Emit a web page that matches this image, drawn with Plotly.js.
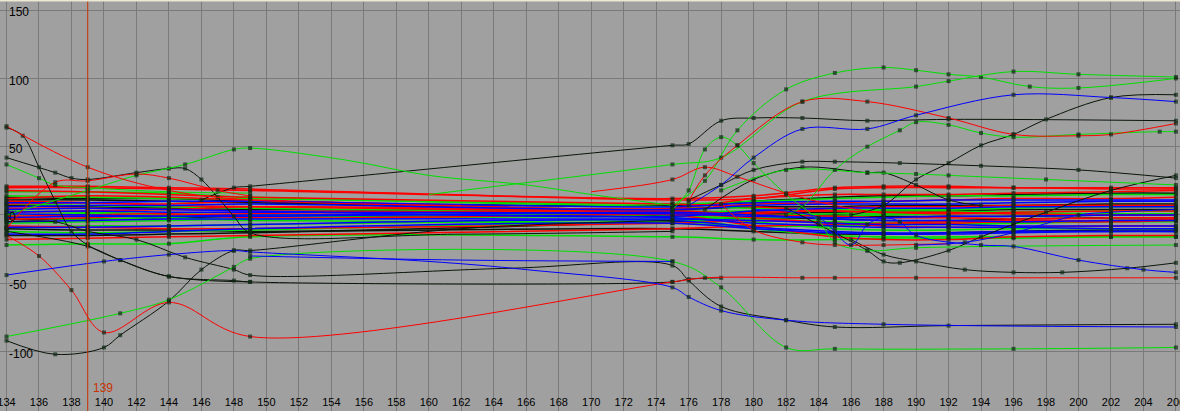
<!DOCTYPE html>
<html><head><meta charset="utf-8">
<script src="https://cdn.plot.ly/plotly-3.0.1.min.js"></script>
<style>html,body{margin:0;padding:0;background:#a0a0a0;overflow:hidden}#chart{width:1180px;height:411px}</style>
</head><body><div id="chart"></div>
<script>
// ---- axis ticks ----
const xTickVals = [134,136,138,140,142,144,146,148,150,152,154,156,158,160,162,164,166,168,170,172,174,176,178,180,182,184,186,188,190,192,194,196,198,200,202,204,206];
const xTickText = xTickVals.map(String);
const yTickVals = [-100,-50,0,50,100,150];
const yTickText = ['-100','-50','0','50','100','150'];
const currentFrame = 139;
// sample times that lie on a curve but are not keyframes (no key marker)
const sampleOnly = [155,160,162,165,166,170];

// ---- black curves (times / values) ----
const k1X = [146,148,149,175,176,178,180,183,187,192,206];
const k1Y = [11,20,21,51,52,69,71,71,69,70,69];
const k2X = [134,137,138,139,142,144,145,146,147,148,149,162,175];
const k2Y = [42,31,27,26,31,34,34,26,13,-1,-13,-14,-12];
const k3X = [134,135,136,137,138,139,141,144,149];
const k3Y = [64,58,35,10,-12,-22,-33,-45,-49];
const k4X = [134,137,140,141,144,146,148,149,162,175];
const k4Y = [-92,-102,-97,-88,-63,-40,-26,-26,-10,-4];
const k5X = [134,139,141,144,148,149,175,176,178];
const k5Y = [-12,-23,-33,-45,-48,-49,-49,-47,-46];
const k6X = [134,137,139,142,145,148,149,165,175,176,178,182,185,192,206];
const k6Y = [-5,-5,-12,-18,-31,-40,-44,-39,-37,-48,-67,-77,-82,-81,-80];
const k7X = [186,188,190,192,194,196,198,202,206];
const k7Y = [0,7,26,38,51,59,70,86,88];
const k8X = [182,184,187,188,189,192,194,198,202,206];
const k8Y = [5,-7,-26,-34,-35,-26,-16,2,18,29];
const k9X = [176,178,180,183,185,189,194,200,206];
const k9Y = [11,22,33,39,39,38,36,33,27];
const k10X = [177,180,183,187,188,190,192,194];
const k10Y = [4,26,35,31,31,22,11,7];
const k11X = [186,188,190,193,196,199,203,206];
const k11Y = [-18,-29,-34,-40,-42,-42,-39,-35];

// ---- red curves ----
const r1X = [176,177,179,183,187,192,196,200,202,206];
const r1Y = [10,29,51,83,83,71,59,58,59,67];
const r2X = [134,139,144,149,162];
const r2Y = [65,35,18,11,7];
const r3X = [134,136,138,140,144,149,175,177,183,185,190,206];
const r3Y = [-15,-30,-55,-86,-64,-89,-49,-46,-46,-46,-46,-46];
const r4X = [170,175,177,179,182,185,188];
const r4Y = [17,26,35,28,16,7,1];
const r5X = [178,180,183,185,188,192];
const r5Y = [8,-11,-20,-22,-22,-21];
const r6X = [134,137,139,142,144,147,149];
const r6Y = [-10,24,25,30,27,18,14];

// ---- green curves ----
const g1X = [175,177,179,182,185,188,190,192,194,197,200,206];
const g1Y = [7,25,62,92,104,108,106,103,101,94,93,100];
const g2X = [160,175,178,183,190,192,196,200,206];
const g2Y = [15,37,42,83,94,98,105,103,101];
const g3X = [134,141,144,148,149,175,178,182,185,196,206];
const g3Y = [-89,-72,-62,-38,-32,-34,-53,-97,-98,-98,-97];
const g4X = [134,139,142,145,148,149,155,160,166,170,175];
const g4Y = [0,18,29,37,48,49,40,29,22,15,7];
const g5X = [134,136,137,139,144,149];
const g5Y = [37,27,22,20,17,16];
const g6X = [178,182,187,190,192,198,206];
const g6Y = [18,33,31,30,29,26,22];
const g7X = [182,183,185,187,189,190,192,194,196,200,205,206];
const g7Y = [0,6,33,50,62,68,66,60,57,59,61,61];
const g8X = [175,176,177,178,179,180,182,184,185,187,190,206];
const g8Y = [4,18,48,57,51,38,15,-4,-20,-26,-24,-22];

// ---- blue curves ----
const b1X = [176,178,180,183,187,190,196,202,206];
const b1Y = [7,22,42,63,63,73,88,86,83];
const b2X = [134,140,144,148,149,160,166,175,176,178,182,188,206];
const b2Y = [-44,-34,-29,-26,-27,-34,-40,-53,-60,-70,-77,-80,-82];
const b3X = [180,184,186,187,188,189,190,194,196,200,204,206];
const b3Y = [4,-2,-22,-7,-2,-5,-15,-22,-23,-33,-40,-42];
const b4X = [190,193,196,200,202,206];
const b4Y = [-22,-20,-13,0,2,4];
const b5X = [149,162,175];
const b5Y = [-30,-33,-34];

// ---- dense band of nearly flat channels ----
const bandX = [134,139,144,149,175,180,185,188,192,196,202,206];
const bandRed = [
  [20,20,19,18,12,14,20,21,21,20,20,20],
  [21,21,20,19,11,12,19,20,20,20,19,19],
  [18,17,15,13,8,6,3,2,1,2,3,3],
  [8,9,8,10,2,0,-1,-2,-2,-3,-2,-2],
  [-3,-2,0,1,3,1,5,6,6,7,7,7],
  [-8,-9,-10,-10,-6,-4,-6,-8,-9,-9,-8,-8],
  [2,3,4,6,0,-8,-16,-18,-18,-16,-15,-15],
  [12,14,13,11,5,12,15,15,15,16,17,18],
  [-1,0,1,-2,1,2,3,2,2,1,0,0],
  [5,5,4,3,1,-2,-6,-7,-6,-5,-5,-4],
  [-18,-17,-16,-15,-10,-8,-7,-6,-5,-4,-4,-3],
  [10,9,7,6,4,8,9,10,11,12,12,13]
];
const bandGreen = [
  [17,17,16,13,6,5,4,4,4,5,6,6],
  [-6,-5,-4,-3,-1,-2,-1,0,1,2,3,3],
  [-22,-21,-21,-16,-16,-18,-18,-17,-17,-17,-16,-16],
  [3,2,1,0,2,3,4,3,3,2,3,3],
  [-12,-13,-12,-11,-4,-3,-5,-6,-6,-6,-5,-5],
  [8,7,6,5,0,-5,-10,-11,-11,-10,-10,-10],
  [-2,-3,-2,-4,-6,-8,-8,-7,-7,-6,-4,-4],
  [14,13,12,12,8,10,12,13,14,14,15,15],
  [-9,-8,-8,-7,-3,-1,1,1,2,1,1,1],
  [0,1,0,-1,-2,-10,-15,-16,-16,-16,-16,-16]
];
const bandBlue = [
  [6,7,7,8,4,7,8,8,8,9,10,10],
  [1,0,-1,-1,2,0,-3,-4,-4,-5,-4,-4],
  [-9,-9,-8,-7,-4,-9,-12,-13,-13,-12,-12,-12],
  [-5,-4,-3,-3,-3,-4,-6,-7,-7,-8,-8,-8],
  [-14,-14,-12,-10,-6,-10,-13,-14,-14,-13,-12,-12],
  [4,5,4,3,-1,3,5,5,5,6,6,6],
  [-2,-1,-1,0,-2,-6,-8,-9,-9,-9,-10,-10],
  [2,3,2,2,1,-1,-2,-2,-1,-1,0,0],
  [9,9,10,10,6,9,10,10,11,11,11,11]
];
const bandBlack = [
  [11,11,10,9,4,6,6,7,7,7,8,8],
  [-15,-15,-14,-13,-5,-2,-3,-4,-4,-3,-2,-2],
  [-3,-3,-2,-1,0,1,0,-1,-1,-1,0,0],
  [13,12,12,10,7,10,13,14,14,15,16,16],
  [7,6,5,4,3,2,2,3,3,4,4,4],
  [-10,-11,-11,-12,-10,-12,-14,-14,-13,-12,-11,-11]
];

const C = {red:'#ff0000', green:'#00e000', blue:'#0000ff', black:'#0a140a', key:'#0f2a16'};
const traces = [];
function curve(xs, ys, color, w) {
  traces.push({
    type:'scatter', mode:'lines+markers', x:xs, y:ys,
    line:{color:color, width:w || 1, shape:'spline', smoothing:1},
    marker:{symbol:'square', size:xs.map(x => sampleOnly.includes(x) ? 0 : 4), color:C.key, line:{width:0}},
    hoverinfo:'skip', showlegend:false
  });
}
bandBlack.forEach(y => curve(bandX, y, C.black, 1.5));
bandGreen.forEach(y => curve(bandX, y, C.green, 1.5));
bandRed.forEach(y => curve(bandX, y, C.red, 1.5));
bandBlue.forEach(y => curve(bandX, y, C.blue, 1.5));
[[k1X,k1Y],[k2X,k2Y],[k3X,k3Y],[k4X,k4Y],[k5X,k5Y],[k6X,k6Y],[k7X,k7Y],[k8X,k8Y],[k9X,k9Y],[k10X,k10Y],[k11X,k11Y]].forEach(p => curve(p[0], p[1], C.black));
[[g1X,g1Y],[g2X,g2Y],[g3X,g3Y],[g4X,g4Y],[g5X,g5Y],[g6X,g6Y],[g7X,g7Y],[g8X,g8Y]].forEach(p => curve(p[0], p[1], C.green));
[[r1X,r1Y],[r2X,r2Y],[r3X,r3Y],[r4X,r4Y],[r5X,r5Y],[r6X,r6Y]].forEach(p => curve(p[0], p[1], C.red));
[[b1X,b1Y],[b2X,b2Y],[b3X,b3Y],[b4X,b4Y],[b5X,b5Y]].forEach(p => curve(p[0], p[1], C.blue));

const font = 'Liberation Sans, Arial, sans-serif';
const layout = {
  width:1180, height:411,
  margin:{l:0, r:0, t:0, b:0, pad:0},
  paper_bgcolor:'#a0a0a0', plot_bgcolor:'#a0a0a0',
  showlegend:false,
  xaxis:{
    range:[133.6, 206.25], tickmode:'array', tickvals:xTickVals, ticktext:xTickText,
    ticklabelposition:'inside', ticklabeloverflow:'allow', ticks:'',
    showgrid:true, gridcolor:'#7a7a7a', gridwidth:1, zeroline:false, showline:false,
    tickfont:{family:font, size:11, color:'#000'}
  },
  yaxis:{
    range:[-143.5, 157.4], tickmode:'array', tickvals:yTickVals, ticktext:yTickText,
    ticklabelposition:'inside', ticklabeloverflow:'allow', ticks:'', ticklabelshift:2, ticklabelstandoff:6,
    showgrid:true, gridcolor:'#7a7a7a', gridwidth:1, zeroline:false, showline:false,
    tickfont:{family:font, size:12, color:'#000'}
  },
  shapes:[
    {type:'line', xref:'x', yref:'paper', x0:currentFrame, x1:currentFrame, y0:0, y1:1, line:{color:'#c83200', width:1}},
    {type:'line', xref:'paper', yref:'paper', x0:0, x1:1, y0:1, y1:1, line:{color:'#ece8d4', width:3}}
  ],
  annotations:[
    {text:String(currentFrame), xref:'x', x:currentFrame, xanchor:'left', xshift:3, yref:'paper', y:0.055, yanchor:'middle', showarrow:false, font:{family:font, size:12, color:'#c83200'}}
  ]
};
Plotly.newPlot('chart', traces, layout, {staticPlot:true, displayModeBar:false});
</script>
</body></html>
